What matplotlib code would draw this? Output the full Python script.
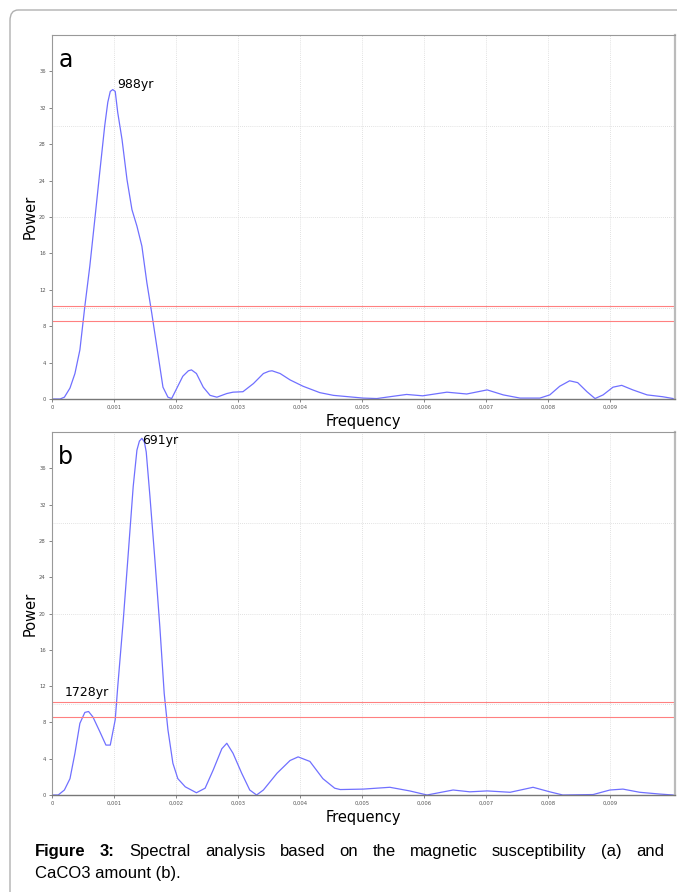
import numpy as np
import matplotlib
matplotlib.use("Agg")
import matplotlib.pyplot as plt
from matplotlib.patches import FancyBboxPatch

# panel a: magnetic susceptibility
freq_a = [0.0, 0.00013, 0.0002, 0.00029, 0.00037, 0.00045, 0.00053, 0.00061, 0.00069,
          0.00077, 0.00085, 0.0009, 0.00094, 0.00098, 0.00102, 0.00106, 0.00113, 0.00121,
          0.00129, 0.00137, 0.00145, 0.00153, 0.00161, 0.00169, 0.00179, 0.00187,
          0.00193, 0.002, 0.00211, 0.0022, 0.00225, 0.00233, 0.00244, 0.00255, 0.00266,
          0.00282, 0.00292, 0.00308, 0.00325, 0.00341, 0.0035, 0.00355, 0.00368, 0.00384,
          0.00405, 0.00432, 0.00454, 0.00502, 0.00524, 0.00545, 0.00572, 0.00598,
          0.00637, 0.00669, 0.00702, 0.00728, 0.00755, 0.00787, 0.00803, 0.00819,
          0.00835, 0.00848, 0.00863, 0.00876, 0.00889, 0.00905, 0.00919, 0.00937,
          0.0096, 0.00985, 0.01002]
power_a = [0.0, 0.0, 0.2, 1.2, 2.8, 5.4, 10.2, 14.6, 19.7,
           24.9, 30.0, 32.6, 33.8, 34.0, 33.8, 31.5, 28.5, 24.1,
           20.8, 19.0, 16.8, 12.8, 9.4, 5.8, 1.3, 0.2,
           0.05, 1.0, 2.5, 3.1, 3.2, 2.8, 1.3, 0.4, 0.2,
           0.6, 0.75, 0.8, 1.7, 2.8, 3.05, 3.1, 2.8, 2.1,
           1.4, 0.7, 0.4, 0.1, 0.05, 0.25, 0.5, 0.35,
           0.75, 0.55, 1.0, 0.45, 0.1, 0.1, 0.45, 1.4,
           2.0, 1.8, 0.8, 0.05, 0.45, 1.3, 1.5, 1.0,
           0.45, 0.25, 0.05]

# panel b: CaCO3 amount
freq_b = [0.0, 0.0001, 0.0002, 0.00029, 0.00037, 0.00045, 0.00053, 0.00059, 0.00066,
          0.00077, 0.00087, 0.00094, 0.00102, 0.00106, 0.00115, 0.00123, 0.00131,
          0.00137, 0.00141, 0.00145, 0.00149, 0.00152, 0.00158, 0.00166, 0.00174, 0.00181, 0.00187,
          0.00195, 0.00203, 0.00215, 0.00233, 0.00247, 0.0026, 0.00274, 0.00282,
          0.00292, 0.00306, 0.00319, 0.0033, 0.00341, 0.00363, 0.00384, 0.00397,
          0.00416, 0.00437, 0.00456, 0.00465, 0.00502, 0.00545, 0.00577, 0.00605,
          0.00647, 0.00674, 0.00702, 0.00739, 0.00776, 0.00803, 0.00824, 0.00873,
          0.009, 0.00921, 0.00948, 0.00981, 0.01002]
power_b = [0.0, 0.0, 0.55, 1.8, 4.6, 7.9, 9.1, 9.2, 8.6,
           7.0, 5.5, 5.5, 8.3, 11.9, 19.3, 26.6, 34.0,
           38.0, 39.0, 39.3, 38.9, 37.8, 32.9, 25.9, 18.5, 11.2, 7.2,
           3.5, 1.8, 0.9, 0.25, 0.75, 2.75, 5.1, 5.7,
           4.6, 2.4, 0.55, 0.0, 0.55, 2.4, 3.8, 4.2,
           3.7, 1.8, 0.75, 0.6, 0.65, 0.85, 0.45, 0.0,
           0.55, 0.35, 0.45, 0.3, 0.85, 0.35, 0.0, 0.05,
           0.55, 0.65, 0.3, 0.1, 0.0]

levels_a = [10.2, 8.55]
levels_b = [10.2, 8.55]

xticks = [0, 0.001, 0.002, 0.003, 0.004, 0.005, 0.006, 0.007, 0.008, 0.009]
xlabels = ["0", "0,001", "0,002", "0,003", "0,004", "0,005", "0,006", "0,007", "0,008", "0,009"]
yticks = list(range(0, 37, 4))

W, H = 677, 892
fig = plt.figure(figsize=(W / 100, H / 100), dpi=100)

# outer rounded frame
frame = FancyBboxPatch((10 / W, -20 / H), 700 / W, (H - 10 + 20) / H,
                       boxstyle="round,pad=0,rounding_size=0.012",
                       transform=fig.transFigure, fill=False,
                       edgecolor="#b0b0b0", linewidth=1.0)
fig.patches.append(frame)


def panel(rect, f, p, levels, letter, notes):
    ax = fig.add_axes(rect)
    ax.plot(f, p, color="#7070ff", linewidth=0.9)
    for lv in levels:
        ax.axhline(lv, color="#ff8080", linewidth=0.8)
    ax.set_xlim(0, 0.01005)
    ax.set_ylim(0, 40)
    ax.set_xticks(xticks)
    ax.set_xticklabels(xlabels)
    ax.set_yticks(yticks)
    ax.tick_params(labelsize=3.8, colors="#555555", length=2.5, width=0.5, pad=2)
    for x in xticks[1:]:
        ax.axvline(x, color="#d8d8d8", linewidth=0.6, linestyle=(0, (1, 1.5)), zorder=0)
    for y in [10, 20, 30]:
        ax.axhline(y, color="#d8d8d8", linewidth=0.6, linestyle=(0, (1, 1.5)), zorder=0)
    for s in ["top", "left"]:
        ax.spines[s].set_color("#999999")
        ax.spines[s].set_linewidth(0.8)
    ax.spines["bottom"].set_color("#777777")
    ax.spines["bottom"].set_linewidth(1.0)
    ax.spines["right"].set_color("#bbbbbb")
    ax.spines["right"].set_linewidth(1.6)
    ax.set_ylabel("Power", fontsize=10.5, labelpad=1)
    ax.set_xlabel("Frequency", fontsize=10.5, labelpad=3)
    ax.text(0.01, 0.965, letter, transform=ax.transAxes, fontsize=17,
            ha="left", va="top")
    for x, y, s in notes:
        ax.text(x, y, s, fontsize=9, ha="left", va="bottom")
    return ax


ax_a = panel([52 / W, 1 - 399 / H, 623 / W, 364 / H], freq_a, power_a, levels_a, "a",
             [(0.00105, 33.9, "988yr")])
ax_b = panel([52 / W, 1 - 795 / H, 623 / W, 363 / H], freq_b, power_b, levels_b, "b",
             [(0.00146, 38.4, "691yr"), (0.0002, 10.6, "1728yr")])

# caption, justified first line
cap_font = ["Liberation Sans Narrow", "Liberation Sans", "DejaVu Sans"]
line1 = [("Figure", "bold"), ("3:", "bold"), ("Spectral", "normal"), ("analysis", "normal"),
         ("based", "normal"), ("on", "normal"), ("the", "normal"), ("magnetic", "normal"),
         ("susceptibility", "normal"), ("(a)", "normal"), ("and", "normal")]
x0, x1 = 35, 664
fig.canvas.draw()
r = fig.canvas.get_renderer()
objs = []
for w, wt in line1:
    t = fig.text(0, 1 - 856 / H, w, fontsize=12, fontweight=wt, family=cap_font,
                 ha="left", va="baseline")
    objs.append(t)
widths = [t.get_window_extent(r).width for t in objs]
gap = (x1 - x0 - sum(widths)) / (len(objs) - 1)
x = x0
for t, wd in zip(objs, widths):
    t.set_x(x / W)
    x += wd + gap
fig.text(x0 / W, 1 - 878 / H, "CaCO3 amount (b).", fontsize=12, family=cap_font,
         ha="left", va="baseline")

fig.savefig("out.png", dpi=100)
